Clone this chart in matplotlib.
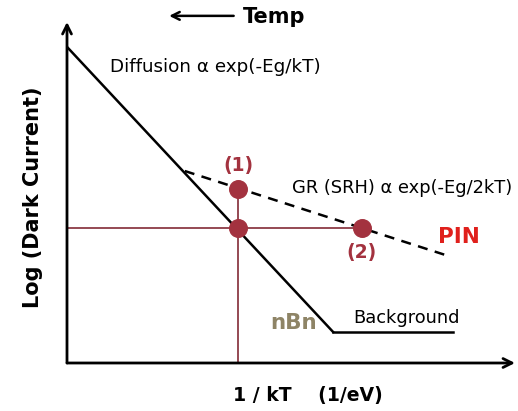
import matplotlib.pyplot as plt

# schematic data (arbitrary units, axis origin at 0,0)
diffusion_x = [0.0, 5.94]
diffusion_y = [9.27, 0.91]
background_x = [5.94, 8.62]
background_y = [0.91, 0.91]
gr_x = [2.63, 8.44]
gr_y = [5.63, 3.17]
op_x = [3.82, 3.82, 6.58]      # (1), crossing, (2)
op_y = [5.10, 3.96, 3.96]

DOT = "#a3323f"
GUIDE = "#8c3a45"

fig = plt.figure(figsize=(5.18, 4.11), dpi=100)
ax = fig.add_axes([67 / 518, 48 / 411, 448 / 518, 341 / 411])
ax.set_xlim(0, 10)
ax.set_ylim(0, 10)
ax.axis("off")

# axes with arrow heads
arrow = dict(arrowstyle="->", lw=2.0, color="black", mutation_scale=16,
             shrinkA=0, shrinkB=0)
ax.annotate("", xy=(0, 10), xytext=(0, 0), arrowprops=arrow, annotation_clip=False)
ax.annotate("", xy=(10, 0), xytext=(0, 0), arrowprops=arrow, annotation_clip=False)

# guide lines through the operating point
ax.plot([op_x[0], op_x[0]], [0, op_y[0]], color=GUIDE, lw=1.3, zorder=2)
ax.plot([0, op_x[2]], [op_y[1], op_y[2]], color=GUIDE, lw=1.3, zorder=2)

ax.plot(diffusion_x, diffusion_y, color="black", lw=1.8, zorder=3)
ax.plot(background_x, background_y, color="black", lw=1.8, zorder=3)
ax.plot(gr_x, gr_y, color="black", lw=1.8, ls=(0, (4, 3)), zorder=3)
ax.scatter(op_x, op_y, s=160, color=DOT, zorder=4)

ax.text(0.96, 8.68, "Diffusion α exp(-Eg/kT)", fontsize=13.2, va="center")
ax.text(5.02, 5.13, "GR (SRH) α exp(-Eg/2kT)", fontsize=12.9, va="center")
ax.text(8.28, 3.70, "PIN", fontsize=15.5, fontweight="bold", color="#e0201c", va="center")
ax.text(op_x[0], 5.80, "(1)", fontsize=13.5, fontweight="bold", color=DOT,
        ha="center", va="center")
ax.text(op_x[2], 3.23, "(2)", fontsize=13.5, fontweight="bold", color=DOT,
        ha="center", va="center")
ax.text(5.58, 1.17, "nBn", fontsize=15.5, fontweight="bold", color="#8e8466",
        ha="right", va="center")
ax.text(6.38, 1.32, "Background", fontsize=12.8, va="center")

ax.text(3.7, -0.94, "1 / kT    (1/eV)", fontsize=13.6, fontweight="bold",
        va="center", ha="left")
ax.text(-0.76, 4.87, "Log (Dark Current)", fontsize=15, fontweight="bold",
        rotation=90, ha="center", va="center")

# temperature direction
ax.annotate("", xy=(2.28, 10.18), xytext=(3.72, 10.18),
            arrowprops=dict(arrowstyle="->", lw=1.8, color="black",
                            mutation_scale=14, shrinkA=0, shrinkB=0),
            annotation_clip=False)
ax.text(3.92, 10.16, "Temp", fontsize=15, fontweight="bold", va="center")

fig.savefig("out.png", dpi=100)
